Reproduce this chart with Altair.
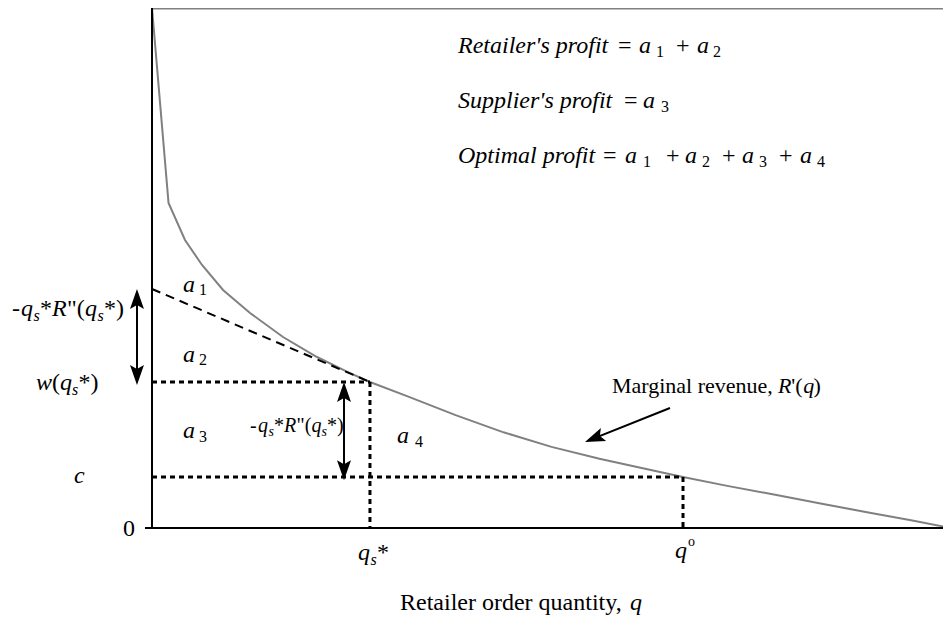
import altair as alt
import pandas as pd

# ---------------- data (q and price in 0-100 units) ----------------
curve_q = [0, 2.07, 4.13, 6.26, 8.89, 12.27, 16.40, 20.65, 24.78, 27.28, 32, 38, 44, 50,
           56, 62, 66.46, 72, 78, 84, 90, 95, 100]
curve_p = [100, 62.5, 55.38, 50.58, 45.77, 41.35, 36.73, 32.88, 29.8, 28.08, 25.3, 21.7, 18.4, 15.6,
           13.3, 11.3, 9.81, 8.1, 6.4, 4.6, 2.9, 1.5, 0]

q_s = 27.28        # q_s*
q_o = 66.46        # q°
w_level = 28.08    # w(q_s*)
c_level = 9.81     # c
tan_top = 45.96    # tangent intercept at q = 0

# text pieces: text, q, p, font size
ital_t = ["Retailer's profit", "a", "a", "Supplier's profit", "a", "Optimal profit", "a", "a", "a", "a",
          "q", "s", "R", "q", "s",
          "q", "s", "R", "q", "s",
          "w", "q", "s", "c",
          "a", "a", "a", "a",
          "q", "s", "q", "q", "R", "q"]
ital_q = [38.30, 60.95, 68.21, 38.30, 61.45, 38.30, 59.20, 66.71, 73.84, 81.10,
          -16.40, -14.83, -12.52, -8.39, -6.82,
          13.27, 14.58, 16.52, 19.96, 21.21,
          -14.52, -11.51, -10.01, -9.76,
          3.88, 3.88, 3.88, 30.66,
          25.78, 27.35, 65.46, 59.82, 78.35, 81.5]
ital_p = [91.35, 91.35, 91.35, 80.77, 80.77, 70.19, 70.19, 70.19, 70.19, 70.19,
          40.77, 39.81, 40.77, 40.77, 39.81,
          18.46, 17.69, 18.46, 18.46, 17.69,
          26.54, 26.54, 25.58, 8.65,
          45.38, 31.92, 17.31, 16.35,
          -6.15, -7.12, -5.77, -15.77, 25.96, 25.96]
ital_s = [24, 24, 24, 24, 24, 24, 24, 24, 24, 24,
          24, 16, 24, 24, 16,
          20, 14, 20, 20, 14,
          24, 24, 16, 24,
          24, 24, 24, 24,
          24, 16, 24, 24, 22, 22]

up_t = ["=", "1", "+", "2", "=", "3", "=", "1", "+", "2", "+", "3", "+", "4",
        "-", "*", "\"(", "*)",
        "-", "*", "\"(", "*)",
        "(", "*)", "0",
        "1", "2", "3", "4",
        "*", "o", "Retailer order quantity,",
        "Marginal revenue,", "'(", ")"]
up_q = [58.32, 63.08, 65.58, 70.21, 59.07, 63.70, 56.45, 61.45, 64.33, 68.84, 71.34, 75.97, 78.47, 83.23,
        -17.52, -14.02, -10.64, -6.01,
        12.27, 15.27, 18.09, 21.90,
        -12.52, -9.20, -3.63,
        5.88, 5.88, 5.88, 32.92,
        28.16, 67.08, 31.04,
        57.57, 80.0, 82.8]
up_p = [91.35, 90.58, 91.35, 90.58, 80.77, 80.0, 70.19, 69.42, 70.19, 69.42, 70.19, 69.42, 70.19, 69.42,
        40.77, 40.77, 40.77, 40.77,
        18.46, 18.46, 18.46, 18.46,
        26.54, 26.54, -1.54,
        44.81, 31.35, 16.54, 15.58,
        -6.15, -3.46, -15.77,
        25.96, 25.96, 25.96]
up_s = [24, 16, 24, 16, 24, 16, 24, 16, 24, 16, 24, 16, 24, 16,
        24, 24, 24, 24,
        20, 20, 20, 20,
        24, 24, 24,
        16, 16, 16, 16,
        24, 14, 24,
        22, 22, 22]

# arrows: shaft start/end and head tips (q, p, angle)
shaft_q = [-1.88, 24.03, 64.83]
shaft_p = [45.2, 27.3, 23.08]
shaft_q2 = [-1.88, 24.03, 54.6]
shaft_p2 = [28.3, 10.0, 16.8]
head_q = [-1.88, -1.88, 24.03, 24.03, 54.19]
head_p = [45.96, 27.5, 28.08, 9.2, 16.54]
head_a = [0, 180, 0, 180, 248]

# ---------------- chart ----------------
W, H = 791, 520
X = alt.Scale(domain=[0, 99], nice=False, zero=False)
Y = alt.Scale(domain=[0, 100], nice=False, zero=False)
FONT = "Liberation Serif"


def xe(f="q"):
    return alt.X(f"{f}:Q", scale=X, axis=None)


def ye(f="p"):
    return alt.Y(f"{f}:Q", scale=Y, axis=None)


def rules(df, **kw):
    return alt.Chart(df).mark_rule(**kw).encode(
        x=xe(), x2="q2:Q", y=ye(), y2="p2:Q")


curve = alt.Chart(pd.DataFrame({"q": curve_q, "p": curve_p})).mark_line(
    color="#808080", strokeWidth=2).encode(x=xe(), y=ye(), order="q:Q")

axes = rules(pd.DataFrame({"q": [0, -0.88], "p": [0, 0], "q2": [0, 100], "p2": [100, 0]}),
             color="black", strokeWidth=2)
top = rules(pd.DataFrame({"q": [0], "p": [100], "q2": [100], "p2": [100]}),
            color="#808080", strokeWidth=3)
dotted = rules(pd.DataFrame({"q": [0, q_s, 0, q_o], "p": [w_level, w_level, c_level, c_level],
                             "q2": [q_s, q_s, q_o, q_o], "p2": [w_level, 0, c_level, 0]}),
               color="black", strokeWidth=3, strokeDash=[5, 4])
tangent = rules(pd.DataFrame({"q": [0], "p": [tan_top], "q2": [q_s], "p2": [w_level]}),
                color="black", strokeWidth=2, strokeDash=[9, 6])
shafts = rules(pd.DataFrame({"q": shaft_q, "p": shaft_p, "q2": shaft_q2, "p2": shaft_p2}),
               color="black", strokeWidth=2)

HEAD = "M0,0L0.7,2L0,1.6L-0.7,2Z"
heads = alt.Chart(pd.DataFrame({"q": head_q, "p": head_p, "a": head_a})).mark_point(
    shape=HEAD, filled=True, color="black", opacity=1, strokeWidth=0, size=400).encode(
    x=xe(), y=ye(), angle=alt.Angle("a:Q", scale=None))


def texts(t, q, p, s, style):
    return alt.Chart(pd.DataFrame({"t": t, "q": q, "p": p, "s": s})).mark_text(
        align="left", baseline="alphabetic", font=FONT, fontStyle=style, color="black").encode(
        x=xe(), y=ye(), text="t:N", size=alt.Size("s:Q", scale=None))


ital = texts(ital_t, ital_q, ital_p, ital_s, "italic")
up = texts(up_t, up_q, up_p, up_s, "normal")

chart = alt.layer(top, curve, axes, dotted, tangent, shafts, heads, ital, up).properties(
    width=W, height=H,
    padding={"left": 144, "top": 0, "right": 0, "bottom": 89},
    autosize=alt.AutoSizeParams(type="none"),
).configure_view(stroke=None)

chart.save("out.html", embed_options={"renderer": "svg", "actions": False})
